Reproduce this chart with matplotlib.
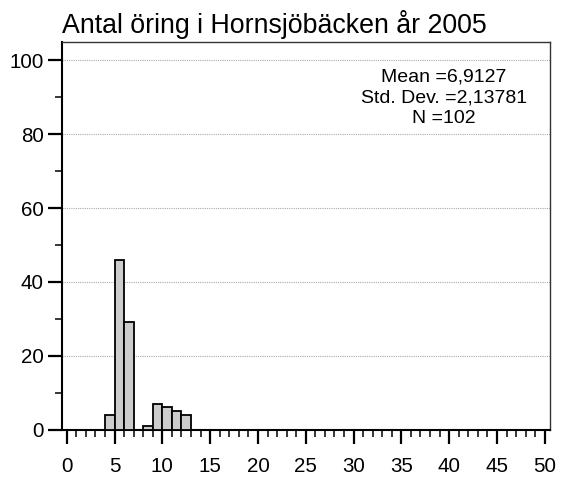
import matplotlib
matplotlib.use("Agg")
import matplotlib.pyplot as plt
from matplotlib.ticker import MultipleLocator

plt.rcParams["font.family"] = ["Liberation Sans", "DejaVu Sans"]

# histogram of fish length classes (bin start, count)
bin_starts = [4, 5, 6, 8, 9, 10, 11, 12]
counts = [4, 46, 29, 1, 7, 6, 5, 4]
bin_width = 1

title = "Antal öring i Hornsjöbäcken år 2005"
stats_lines = ["Mean =6,9127", "Std. Dev. =2,13781", "N =102"]

x_major = 5
x_minor = 1
y_major = 20
y_minor = 10

fig = plt.figure(figsize=(5.61, 4.79), dpi=100)
ax = fig.add_axes([0.1105, 0.1033, 0.8699, 0.809])

ax.bar(bin_starts, counts, width=bin_width, align="edge",
       facecolor="#cccccc", edgecolor="black", linewidth=1.3, zorder=3)

ax.set_xlim(-0.5, 50.55)
ax.set_ylim(0, 105)

ax.yaxis.set_major_locator(MultipleLocator(y_major))
ax.yaxis.set_minor_locator(MultipleLocator(y_minor))
ax.xaxis.set_major_locator(MultipleLocator(x_major))
ax.xaxis.set_minor_locator(MultipleLocator(x_minor))

ax.grid(axis="y", which="major", linestyle=(0, (1, 1)), color="#aaaaaa", linewidth=0.8, zorder=0)

ax.tick_params(axis="both", which="major", direction="out", length=10, width=1.6,
               labelsize=14.8, color="black")
ax.tick_params(axis="y", which="major", pad=3.2)
ax.tick_params(axis="x", which="major", pad=10)
ax.tick_params(axis="both", which="minor", direction="out", length=5, width=1.1, color="black")

ax.spines["left"].set_linewidth(1.5)
ax.spines["bottom"].set_linewidth(1.5)
ax.spines["top"].set_linewidth(1.0)
ax.spines["right"].set_linewidth(1.0)
ax.spines["top"].set_color("#333333")
ax.spines["right"].set_color("#333333")

fig.text(0.1105, 0.931, title, ha="left", va="baseline", fontsize=19.3)

for i, line in enumerate(stats_lines):
    ax.text(0.783, 0.910 - i * 0.054, line, transform=ax.transAxes,
            ha="center", va="center", fontsize=14)

fig.savefig("out.png", dpi=100, facecolor="white")
